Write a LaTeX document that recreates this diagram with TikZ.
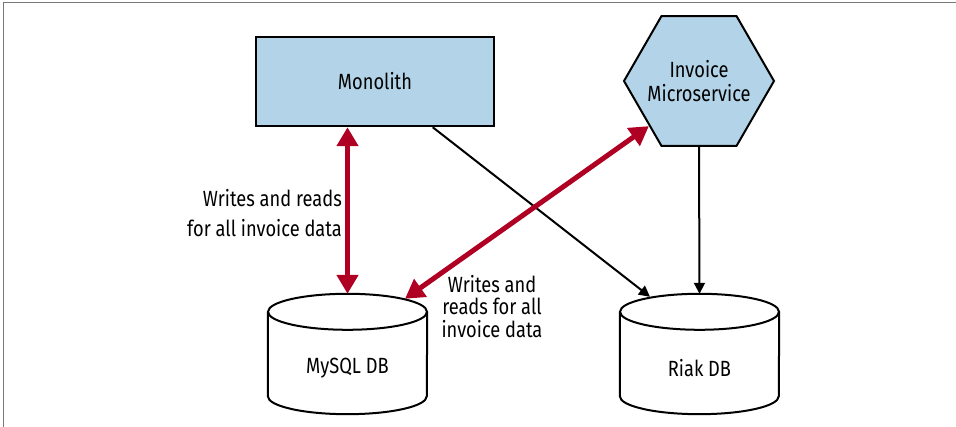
\documentclass[tikz,border=0pt]{standalone}
\usepackage{fontspec}
\setmainfont{Fira Sans}[FakeStretch=0.83]
\usetikzlibrary{arrows.meta,shapes.geometric,calc}
\definecolor{boxblue}{RGB}{179,212,232}
\definecolor{arrred}{RGB}{175,0,35}
\definecolor{framegray}{RGB}{120,120,120}
\begin{document}
\begin{tikzpicture}[x=1pt,y=1pt,
  lbl/.style={font=\fontsize{22}{23}\selectfont, inner sep=0pt},
  box/.style={draw=black, line width=2.5pt, fill=boxblue, inner sep=0pt},
  hexbox/.style={regular polygon, regular polygon sides=6, minimum size=150pt, draw=black, line width=2pt, fill=boxblue, inner sep=0pt},
  dbarea/.style={minimum width=159pt, minimum height=120pt, inner sep=0pt},
  dbline/.style={draw=black, line width=2pt},
  redarr/.style={draw=arrred, line width=5pt, {Triangle[width=21pt,length=19pt]}-{Triangle[width=21pt,length=19pt]}},
  blkarr/.style={draw=black, line width=2pt, -{Triangle[width=11pt,length=11pt]}}]
\useasboundingbox (0,0) rectangle (956,427);
\draw[framegray, line width=1pt] (3,0) -- (3,424) -- (956,424);

\node[box, minimum width=238pt, minimum height=89pt, font=\fontsize{22}{23}\selectfont] (mono) at (375,345.5) {Monolith};
\node[hexbox] (inv) at (699,346) {};
\node[lbl, align=center, font=\fontsize{22}{23.5}\selectfont] (invtxt) at (inv.center) {Invoice\\Microservice};

\node[dbarea] (mysql) at (347.5,73) {};
\node[dbarea] (riak) at (699.5,73) {};
\foreach \db in {mysql,riak}{
  \draw[dbline] ([yshift=-18pt]\db.north west) -- ([yshift=18pt]\db.south west)
    arc[start angle=180, end angle=360, x radius=79.5pt, y radius=18pt]
    -- ([yshift=-18pt]\db.north east);
  \draw[dbline] ([yshift=-18pt]\db.north) ellipse[x radius=79.5pt, y radius=18pt];
}
\node[lbl] (mysqltxt) at (347.5,59) {MySQL DB};
\node[lbl] (riaktxt) at (699.5,59) {Riak DB};

\draw[blkarr] ($(mono.south west)!0.74!(mono.south east)$) -- ([xshift=-49.5pt,yshift=-3pt]riak.north);
\draw[blkarr] (inv.south) -- (riak.north);
\draw[redarr] (mono.south -| mysql.north) -- (mysql.north);
\draw[redarr] ([xshift=57.5pt,yshift=-5pt]mysql.north) -- (inv.222);

\node[lbl, align=right, anchor=east, font=\fontsize{22}{30.5}\selectfont] (lblA) at (342,214) {Writes and reads\\for all invoice data};
\node[lbl, align=center, font=\fontsize{22}{22.5}\selectfont] (lblB) at (492,120.5) {Writes and\\reads for all\\invoice data};
\end{tikzpicture}
\end{document}
